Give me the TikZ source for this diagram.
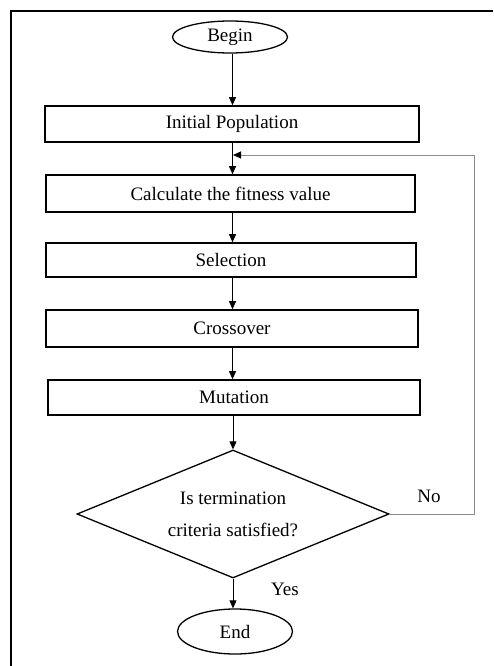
\documentclass[tikz,border=0pt]{standalone}
\usepackage{fontspec}
\setmainfont{Liberation Serif}
\usetikzlibrary{arrows.meta,shapes.geometric}
\begin{document}
\begin{tikzpicture}[x=1pt,y=-1pt,
  every node/.style={font=\fontsize{19}{32}\selectfont},
  procbox/.style={draw,line width=1.6pt,minimum height=36pt,inner sep=0pt},
  term/.style={draw,line width=1.3pt,ellipse,inner sep=0pt,minimum width=115pt},
  decide/.style={draw,line width=1.3pt,diamond,inner sep=0pt,minimum width=312pt,minimum height=128pt,aspect=2.44,align=center},
  arr/.style={line width=0.8pt,-{Triangle[length=8pt,width=7pt]}},
  fb/.style={line width=1pt,black!45,-{Triangle[length=8pt,width=7pt,color=black]}},
  lbl/.style={inner sep=0pt}
]
\useasboundingbox (0,0) rectangle (493,666);
\draw[line width=1.6pt] (11,666) -- (11,11) -- (493,11);

\node[term,minimum height=32pt] (begin) at (230,37) {Begin};
\node[procbox,minimum width=374pt] (init) at (232,124) {Initial Population};
\node[procbox,minimum width=369pt,minimum height=37pt] (calc) at (230.5,193.5) {Calculate the fitness value};
\node[procbox,minimum width=370pt,minimum height=34pt] (sel) at (231,260) {Selection};
\node[procbox,minimum width=372pt,minimum height=37pt] (cross) at (232,328.5) {Crossover};
\node[procbox,minimum width=372pt,minimum height=35pt] (mut) at (234,397.5) {Mutation};
\node[decide] (dec) at (233,514) {Is termination\\criteria satisfied?};
\node[term,minimum height=45pt] (end) at (235,631.5) {End};

\coordinate (col) at (232.5,0);
\coordinate (join) at (233,155);

\draw[arr] (begin.south -| col) -- (init.north -| col);
\draw[arr] (init.south -| col) -- (calc.north -| col);
\draw[arr] (calc.south -| col) -- (sel.north -| col);
\draw[arr] (sel.south -| col) -- (cross.north -| col);
\draw[arr] (cross.south -| col) -- (mut.north -| col);
\draw[arr] (mut.south -| dec.north) -- (dec.north);
\draw[arr] (dec.south) -- (end.north -| dec.south);
\draw[fb] (dec.east) -- (474,514) -- (474,155) -- (join);

\node[lbl] (no) at (429,496) {No};
\node[lbl] (yes) at (285,589) {Yes};
\end{tikzpicture}
\end{document}
